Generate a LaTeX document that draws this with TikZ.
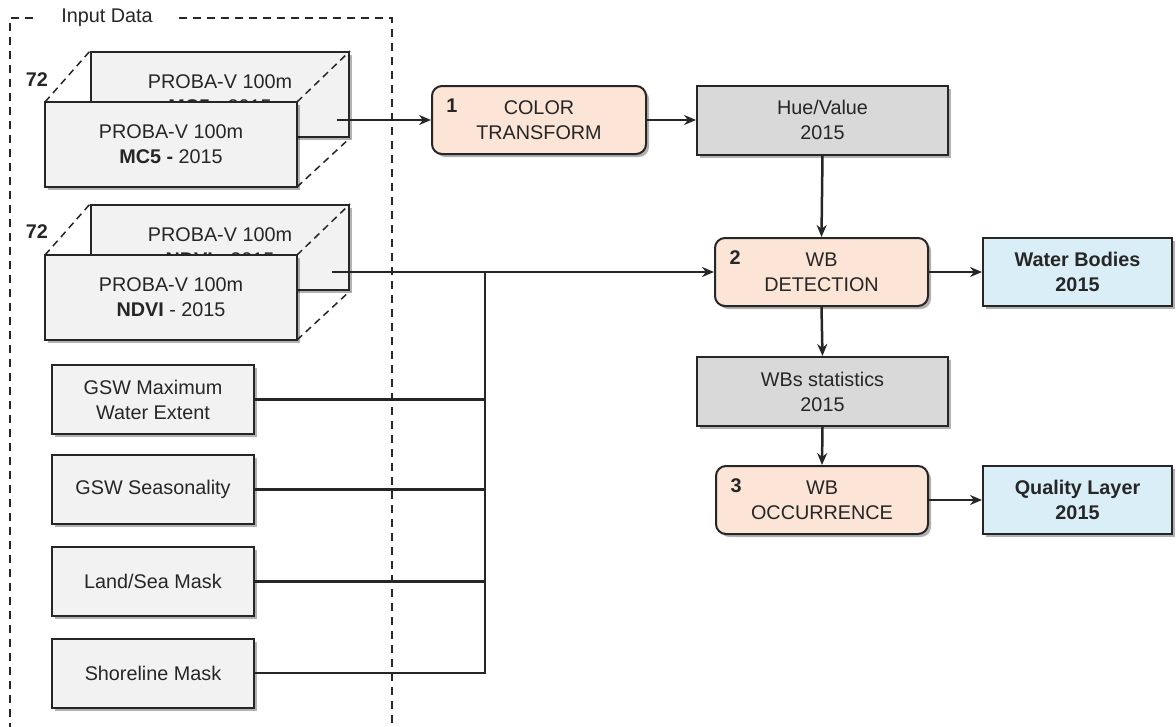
\documentclass[tikz,border=0pt]{standalone}
\usepackage{fontspec}
\setmainfont{Liberation Sans}
\usetikzlibrary{shadows,arrows.meta,calc}
\definecolor{peach}{HTML}{FCE4D6}
\definecolor{midgray}{HTML}{D9D9D9}
\definecolor{ltgray}{HTML}{F2F2F2}
\definecolor{ltblue}{HTML}{DAEEF8}
\definecolor{ink}{HTML}{262626}
\begin{document}
\begin{tikzpicture}[x=1pt,y=-1pt,
  every node/.style={font=\fontsize{19.8}{25}\selectfont, text=ink},
  basebox/.style={draw=ink, line width=2pt, align=center, inner sep=2pt,
    drop shadow={shadow xshift=3pt, shadow yshift=-3pt, opacity=0.3, fill=black}},
  inbox/.style={basebox, fill=ltgray},
  databox/.style={basebox, fill=midgray},
  procbox/.style={basebox, fill=peach, rounded corners=10pt},
  outbox/.style={basebox, fill=ltblue, font=\fontsize{19.8}{25}\selectfont\bfseries},
  conn/.style={draw=ink, line width=2.5pt},
  arr/.style={conn, -{Stealth[length=12pt,width=10pt]}},
  stackline/.style={draw=ink, line width=1.5pt, dash pattern=on 7pt off 5pt},
  frameline/.style={draw=ink, line width=1.8pt, dash pattern=on 8pt off 6pt},
  numlab/.style={font=\fontsize{19.8}{25}\selectfont\bfseries}
]
\useasboundingbox (0,0) rectangle (1176,726);
\fill[white] (0,0) rectangle (1176,726);

% input frame
\draw[frameline] (10,745) -- (10,18) -- (392,18) -- (392,745);
\node[fill=white, inner xsep=22pt, inner ysep=2pt] (title) at (107,18) {Input Data};

% stack 1
\node[inbox, minimum width=258pt, minimum height=85pt] (b1) at (220,94.5) {PROBA-V 100m\\\textbf{MC5 -} 2015};
\draw[stackline] (45,102) coordinate (f1nw) -- (b1.north west);
\draw[stackline] (297,102) coordinate (f1ne) -- (b1.north east);
\draw[stackline] (297,187) coordinate (f1se) -- (b1.south east);
\node[inbox, minimum width=252pt, minimum height=85pt] (f1) at (171,144.5) {PROBA-V 100m\\\textbf{MC5 -} 2015};
\node[numlab] (n1) at (37,80) {72};

% stack 2
\node[inbox, minimum width=258pt, minimum height=85pt] (b2) at (220,247.5) {PROBA-V 100m\\\textbf{NDVI} - 2015};
\draw[stackline] (45,255) coordinate (f2nw) -- (b2.north west);
\draw[stackline] (297,255) coordinate (f2ne) -- (b2.north east);
\draw[stackline] (297,340) coordinate (f2se) -- (b2.south east);
\node[inbox, minimum width=252pt, minimum height=85pt] (f2) at (171,297.5) {PROBA-V 100m\\\textbf{NDVI} - 2015};
\node[numlab] (n2) at (37,232) {72};

% auxiliary inputs
\node[inbox, minimum width=202pt, minimum height=69pt] (g1) at (153,399.5) {GSW Maximum\\Water Extent};
\node[inbox, minimum width=202pt, minimum height=69pt] (g2) at (153,489.5) {GSW Seasonality};
\node[inbox, minimum width=202pt, minimum height=69pt] (g3) at (153,581.5) {Land/Sea Mask};
\node[inbox, minimum width=202pt, minimum height=69pt] (g4) at (153,673) {Shoreline Mask};

% processing chain
\node[procbox, minimum width=214pt, minimum height=68pt] (ct) at (539,120) {COLOR\\TRANSFORM};
\node[numlab] (l1) at ($(ct.north west)+(21,21)$) {1};
\node[databox, minimum width=251pt, minimum height=69pt] (hv) at (822.5,120) {Hue/Value\\2015};
\node[procbox, minimum width=213pt, minimum height=68pt] (det) at (821.5,272) {WB\\DETECTION};
\node[numlab] (l2) at ($(det.north west)+(21,21)$) {2};
\node[outbox, minimum width=189pt, minimum height=68pt] (wb) at (1077.5,272) {Water Bodies\\2015};
\node[databox, minimum width=251pt, minimum height=69pt] (st) at (822.5,391.5) {WBs statistics\\2015};
\node[procbox, minimum width=212pt, minimum height=68pt] (oc) at (822,500) {WB\\OCCURRENCE};
\node[numlab] (l3) at ($(oc.north west)+(21,21)$) {3};
\node[outbox, minimum width=189pt, minimum height=68pt] (ql) at (1077.5,500) {Quality Layer\\2015};

% connectors
\coordinate (s1) at (337,120);
\coordinate (s2) at (332,272);
\coordinate (bus) at (485,272);
\draw[arr] (s1) -- (ct.west);
\draw[arr] (ct.east) -- (hv.west);
\draw[arr] (hv.south) -- (det.north);
\draw[arr] (s2) -- (det.west);
\draw[conn] (g4.east) -| (bus);
\draw[conn] (g1.east) -- (g1.east -| bus);
\draw[conn] (g2.east) -- (g2.east -| bus);
\draw[conn] (g3.east) -- (g3.east -| bus);
\draw[arr] (det.east) -- (wb.west);
\draw[arr] (det.south) -- (st.north);
\draw[arr] (st.south) -- (oc.north);
\draw[arr] (oc.east) -- (ql.west);
\end{tikzpicture}
\end{document}
